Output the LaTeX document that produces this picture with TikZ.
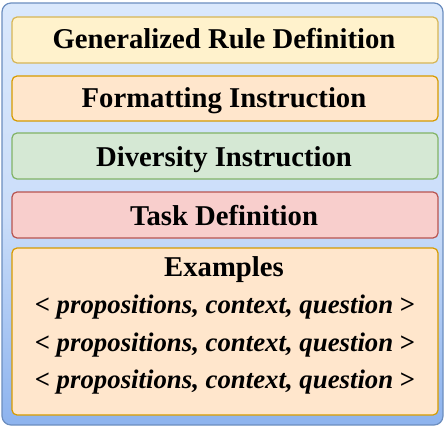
\documentclass[tikz,border=0pt]{standalone}
\usepackage{fontspec}
\setmainfont{Liberation Serif}
\definecolor{outerfill}{HTML}{DAE8FC}
\definecolor{outerbot}{HTML}{8DB3EE}
\definecolor{outerdraw}{HTML}{6C8EBF}
\definecolor{yelfill}{HTML}{FFF2CC}
\definecolor{yeldraw}{HTML}{D6B656}
\definecolor{orfill}{HTML}{FFE6CC}
\definecolor{ordraw}{HTML}{D79B00}
\definecolor{grfill}{HTML}{D5E8D4}
\definecolor{grdraw}{HTML}{82B366}
\definecolor{rdfill}{HTML}{F8CECC}
\definecolor{rddraw}{HTML}{B85450}
\tikzset{
  panel/.style={rounded corners=5pt, line width=1.2pt},
  title/.style={font=\fontsize{28.7}{31}\selectfont\bfseries, anchor=base, inner sep=0pt},
  exline/.style={font=\fontsize{26.8}{30}\selectfont\bfseries, anchor=base, inner sep=0pt},
}
\begin{document}
\begin{tikzpicture}[x=1pt,y=-1pt]
\useasboundingbox (0,0) rectangle (445,428);
\path[top color=outerfill, bottom color=outerbot, middle color=outerfill!80!outerbot, draw=outerdraw, line width=1.2pt, rounded corners=9pt] (2,3) rectangle (443,425);
\draw[panel, fill=yelfill, draw=yeldraw] (12,17) rectangle (438,63);
\draw[panel, fill=orfill, draw=ordraw] (12,76) rectangle (438,121);
\draw[panel, fill=grfill, draw=grdraw] (12,133) rectangle (438,179);
\draw[panel, fill=rdfill, draw=rddraw] (12,192) rectangle (438,238);
\draw[panel, fill=orfill, draw=ordraw] (12,248) rectangle (438,415);
\node[title] (t1) at (224,49) {Generalized Rule Definition};
\node[title] (t2) at (224,108) {Formatting Instruction};
\node[title] (t3) at (224,166) {Diversity Instruction};
\node[title] (t4) at (224,225) {Task Definition};
\node[title] (t5) at (224,276) {Examples};
\node[exline] (e1) at (225,313) {< \textit{propositions, context, question} >};
\node[exline] (e2) at (225,351) {< \textit{propositions, context, question} >};
\node[exline] (e3) at (225,388) {< \textit{propositions, context, question} >};
\end{tikzpicture}
\end{document}
